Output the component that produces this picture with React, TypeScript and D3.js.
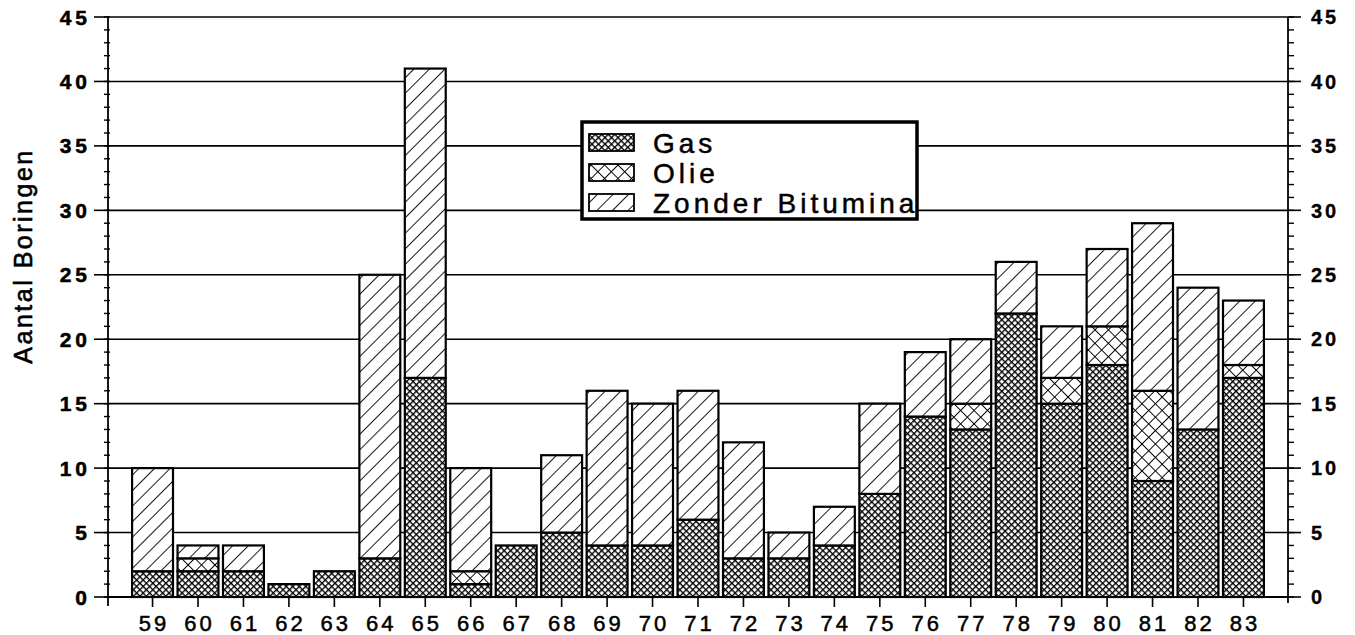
import * as d3 from 'd3'

const years = ['59', '60', '61', '62', '63', '64', '65', '66', '67', '68', '69', '70', '71', '72', '73', '74', '75', '76', '77', '78', '79', '80', '81', '82', '83']
const gas = [2, 2, 2, 1, 2, 3, 17, 1, 4, 5, 4, 4, 6, 3, 3, 4, 8, 14, 13, 22, 15, 18, 9, 13, 17]
const olie = [0, 1, 0, 0, 0, 0, 0, 1, 0, 0, 0, 0, 0, 0, 0, 0, 0, 0, 2, 0, 2, 3, 7, 0, 1]
const zonder = [8, 1, 2, 0, 0, 22, 24, 8, 0, 6, 12, 11, 10, 9, 2, 3, 7, 5, 5, 4, 4, 6, 13, 11, 5]
const seriesKeys = ['gas', 'olie', 'zonder']
const seriesLabels = ['Gas', 'Olie', 'Zonder Bitumina']
const yTicks = [0, 5, 10, 15, 20, 25, 30, 35, 40, 45]

const W = 1355
const H = 635
const FONT = '"Liberation Sans", Arial, Helvetica, sans-serif'

export default function App() {
  const rows = years.map((yr, i) => ({ yr, gas: gas[i], olie: olie[i], zonder: zonder[i] }))
  const stacked = d3.stack<any>().keys(seriesKeys)(rows)

  const x = d3.scaleBand<string>().domain(years).range([108, 1288]).paddingInner(0.1).paddingOuter(0.53)
  const y = d3.scaleLinear().domain([0, 45]).range([597, 17])
  const minor = d3.range(0, 46)

  const left = 108
  const right = 1288

  return (
    <svg width={W} height={H} style={{ position: 'absolute', left: 0, top: 0, background: '#fff' }} fontFamily={FONT}>
      <defs>
        <pattern id="p-gas" width={4.6} height={4.6} patternUnits="userSpaceOnUse" patternTransform="rotate(45)">
          <rect width={4.6} height={4.6} fill="#fff" />
          <line x1={0} y1={0} x2={0} y2={4.6} stroke="#000" strokeWidth={2.7} />
          <line x1={0} y1={0} x2={4.6} y2={0} stroke="#000" strokeWidth={2.7} />
        </pattern>
        <pattern id="p-olie" width={9.5} height={9.5} patternUnits="userSpaceOnUse" patternTransform="rotate(45)">
          <rect width={9.5} height={9.5} fill="#fff" />
          <line x1={0} y1={0} x2={0} y2={9.5} stroke="#000" strokeWidth={1.9} />
          <line x1={0} y1={0} x2={9.5} y2={0} stroke="#000" strokeWidth={1.9} />
        </pattern>
        <pattern id="p-zonder" width={11} height={11} patternUnits="userSpaceOnUse" patternTransform="rotate(45)">
          <rect width={11} height={11} fill="#fff" />
          <line x1={0} y1={0} x2={0} y2={11} stroke="#000" strokeWidth={1.8} />
        </pattern>
      </defs>

      {/* gridlines */}
      {yTicks.map((t) => (
        <line key={'g' + t} x1={left} x2={right} y1={y(t)} y2={y(t)} stroke="#000" strokeWidth={1.6} />
      ))}

      {/* bars */}
      {stacked.map((s, si) => (
        <g key={seriesKeys[si]}>
          {s.map((d, i) =>
            d[1] - d[0] > 0 ? (
              <rect
                key={i}
                x={x(years[i])}
                width={x.bandwidth()}
                y={y(d[1])}
                height={y(d[0]) - y(d[1])}
                fill={`url(#p-${seriesKeys[si]})`}
                stroke="#000"
                strokeWidth={2.2}
              />
            ) : null
          )}
        </g>
      ))}

      {/* left axis */}
      <line x1={left} x2={left} y1={y(45)} y2={606} stroke="#000" strokeWidth={1.8} />
      {minor.map((t) => (
        <line key={'ml' + t} x1={left - 4} x2={left + 2} y1={y(t)} y2={y(t)} stroke="#000" strokeWidth={1.4} />
      ))}
      {yTicks.map((t) => (
        <g key={'l' + t}>
          <line x1={left - 14} x2={left} y1={y(t)} y2={y(t)} stroke="#000" strokeWidth={1.6} />
          <text x={91} y={y(t)} dy="0.36em" textAnchor="end" fontSize={21} fontWeight="bold" letterSpacing={4} stroke="#000" strokeWidth={0.5}>
            {t}
          </text>
        </g>
      ))}

      {/* right axis */}
      <line x1={right} x2={right} y1={y(45)} y2={603} stroke="#000" strokeWidth={1.8} />
      {minor.map((t) => (
        <line key={'mr' + t} x1={right} x2={right + 6} y1={y(t)} y2={y(t)} stroke="#000" strokeWidth={1.4} />
      ))}
      {yTicks.map((t) => (
        <g key={'r' + t}>
          <line x1={right} x2={right + 13} y1={y(t)} y2={y(t)} stroke="#000" strokeWidth={1.6} />
          <text x={1311} y={y(t)} dy="0.36em" textAnchor="start" fontSize={20} fontWeight="bold" letterSpacing={3} stroke="#000" strokeWidth={0.3}>
            {t}
          </text>
        </g>
      ))}

      {/* bottom axis */}
      <line x1={left} x2={right} y1={y(0)} y2={y(0)} stroke="#000" strokeWidth={2.2} />
      {years.map((yr) => {
        const cx = (x(yr) as number) + x.bandwidth() / 2
        return (
          <g key={'x' + yr}>
            <line x1={cx} x2={cx} y1={y(0)} y2={607} stroke="#000" strokeWidth={1.6} />
            <text x={cx + 1.5} y={631} textAnchor="middle" fontSize={22} letterSpacing={3} stroke="#000" strokeWidth={0.5}>
              {yr}
            </text>
          </g>
        )
      })}

      {/* y title */}
      <text
        transform="translate(32,256) rotate(-90)"
        textAnchor="middle"
        fontSize={25}
        letterSpacing={2.5}
        stroke="#000"
        strokeWidth={0.6}
      >
        Aantal Boringen
      </text>

      {/* legend */}
      <g>
        <rect x={582} y={122} width={335} height={97} fill="#fff" stroke="#000" strokeWidth={3.5} />
        {seriesKeys.map((k, i) => (
          <g key={'lg' + k} transform={`translate(0,${i * 30})`}>
            <rect x={589} y={134} width={45} height={17} fill={`url(#p-${k})`} stroke="#000" strokeWidth={1.8} />
            <text x={653} y={153} fontSize={28} letterSpacing={4} stroke="#000" strokeWidth={0.5}>
              {seriesLabels[i]}
            </text>
          </g>
        ))}
      </g>
    </svg>
  )
}
